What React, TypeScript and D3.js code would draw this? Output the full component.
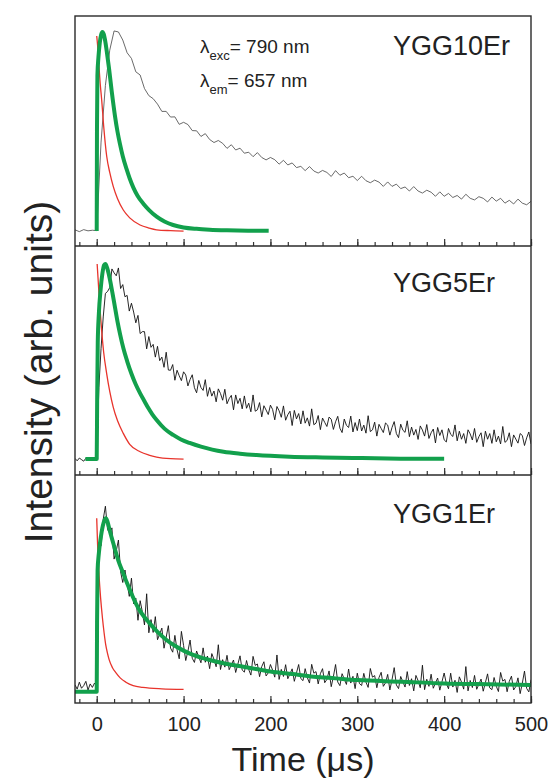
import { useEffect, useRef } from "react";
import * as d3 from "d3";

// time axis (µs)
const timeDomain = [-25, 500];
const majorTicks = [0, 100, 200, 300, 400, 500];
const minorTicks = d3.range(-20, 501, 20);

// measured decays, sampled from -25 µs
const sampleStart = -25;

// YGG10Er, every 5 µs
const decay10Er = [
  0.006, -0.003, 0.007, 0.001, 0.004, 0.002, 0.44, 0.72, 0.895, 0.99,
  0.985, 0.945, 0.882, 0.854, 0.788, 0.772, 0.705, 0.67, 0.655, 0.628,
  0.592, 0.592, 0.564, 0.565, 0.528, 0.538, 0.527, 0.497, 0.496, 0.468,
  0.482, 0.453, 0.438, 0.448, 0.434, 0.409, 0.427, 0.401, 0.41, 0.385,
  0.39, 0.368, 0.388, 0.364, 0.352, 0.364, 0.353, 0.331, 0.35, 0.327,
  0.337, 0.314, 0.32, 0.299, 0.319, 0.297, 0.287, 0.3, 0.29, 0.27,
  0.299, 0.276, 0.287, 0.264, 0.271, 0.25, 0.271, 0.249, 0.239, 0.252,
  0.242, 0.221, 0.243, 0.221, 0.232, 0.21, 0.218, 0.198, 0.22, 0.198,
  0.188, 0.202, 0.192, 0.172, 0.194, 0.172, 0.186, 0.166, 0.176, 0.158,
  0.182, 0.162, 0.154, 0.17, 0.162, 0.144, 0.168, 0.148, 0.162, 0.138,
  0.152, 0.134, 0.158, 0.138, 0.13, 0.147,
];

// YGG5Er, every 2.5 µs
const decay5Er = [
  0.008, -0.004, 0.01, 0.002, -0.006, 0.009, 0.0, 0.011, -0.003, 0.006, 0.004,
  0.37, 0.57, 0.73, 0.85, 0.86, 0.88, 0.975, 0.955, 0.94, 0.98,
  0.875, 0.895, 0.833, 0.84, 0.76, 0.8, 0.755, 0.7, 0.738, 0.645,
  0.655, 0.655, 0.567, 0.63, 0.575, 0.59, 0.525, 0.58, 0.507, 0.525,
  0.473, 0.55, 0.459, 0.458, 0.487, 0.407, 0.458, 0.43, 0.405, 0.45,
  0.434, 0.378, 0.411, 0.435, 0.369, 0.343, 0.406, 0.37, 0.355, 0.41,
  0.325, 0.37, 0.326, 0.352, 0.297, 0.363, 0.339, 0.305, 0.361, 0.287,
  0.313, 0.33, 0.256, 0.332, 0.288, 0.315, 0.261, 0.327, 0.264, 0.29,
  0.246, 0.332, 0.249, 0.256, 0.293, 0.22, 0.277, 0.255, 0.232, 0.28,
  0.258, 0.205, 0.273, 0.251, 0.218, 0.276, 0.203, 0.231, 0.249, 0.176,
  0.253, 0.21, 0.237, 0.184, 0.251, 0.188, 0.215, 0.173, 0.261, 0.18,
  0.188, 0.227, 0.155, 0.214, 0.192, 0.171, 0.219, 0.208, 0.156, 0.195,
  0.223, 0.162, 0.14, 0.209, 0.177, 0.166, 0.224, 0.143, 0.191, 0.15,
  0.209, 0.148, 0.178, 0.137, 0.226, 0.145, 0.154, 0.193, 0.122, 0.182,
  0.161, 0.14, 0.189, 0.178, 0.127, 0.166, 0.196, 0.135, 0.114, 0.183,
  0.152, 0.141, 0.2, 0.119, 0.168, 0.127, 0.156, 0.105, 0.174, 0.153,
  0.122, 0.181, 0.11, 0.139, 0.158, 0.087, 0.166, 0.125, 0.154, 0.103,
  0.092, 0.161, 0.131, 0.12, 0.179, 0.098, 0.147, 0.106, 0.135, 0.085,
  0.154, 0.133, 0.102, 0.161, 0.09, 0.119, 0.139, 0.068, 0.147, 0.106,
  0.135, 0.085, 0.154, 0.093, 0.122, 0.082, 0.171, 0.09, 0.1, 0.139,
  0.068, 0.128, 0.107, 0.086, 0.135, 0.125, 0.074, 0.113, 0.143, 0.082,
];

// YGG1Er, every 2.5 µs
const decay1Er = [
  0.04, 0.015, 0.055, 0.02, 0.035, 0.06, 0.01, 0.045, 0.025, 0.05, 0.03,
  0.845, 0.84, 0.995, 1.07, 0.935, 0.915, 0.945, 0.765, 0.812, 0.875,
  0.692, 0.63, 0.702, 0.625, 0.55, 0.655, 0.507, 0.54, 0.412, 0.525,
  0.462, 0.385, 0.565, 0.34, 0.416, 0.342, 0.433, 0.3, 0.333, 0.367,
  0.251, 0.315, 0.381, 0.252, 0.228, 0.325, 0.242, 0.19, 0.348, 0.267,
  0.18, 0.234, 0.298, 0.193, 0.169, 0.235, 0.201, 0.167, 0.253, 0.17,
  0.206, 0.133, 0.22, 0.187, 0.144, 0.271, 0.128, 0.185, 0.142, 0.21,
  0.127, 0.155, 0.183, 0.111, 0.159, 0.207, 0.125, 0.113, 0.18, 0.128,
  0.096, 0.204, 0.152, 0.16, 0.087, 0.145, 0.173, 0.091, 0.109, 0.157,
  0.125, 0.084, 0.212, 0.071, 0.129, 0.088, 0.156, 0.075, 0.103, 0.132,
  0.06, 0.109, 0.157, 0.076, 0.064, 0.133, 0.081, 0.05, 0.158, 0.107,
  0.116, 0.045, 0.104, 0.133, 0.052, 0.071, 0.12, 0.029, 0.088, 0.157,
  0.056, 0.035, 0.104, 0.073, 0.042, 0.131, 0.05, 0.089, 0.018, 0.107,
  0.047, 0.036, 0.106, 0.055, 0.025, 0.134, 0.084, 0.093, 0.023, 0.082,
  0.112, 0.031, 0.051, 0.1, 0.01, 0.07, 0.139, 0.039, 0.018, 0.088,
  0.057, 0.027, 0.116, 0.036, 0.075, 0.005, 0.094, 0.064, 0.023, 0.153,
  0.012, 0.072, 0.031, 0.101, 0.02, 0.05, 0.079, 0.009, 0.058, 0.108,
  0.048, 0.017, 0.107, 0.027, 0.066, -0.004, 0.086, 0.056, 0.015, 0.145,
  0.005, 0.065, 0.024, 0.094, 0.014, 0.044, 0.073, 0.003, 0.053, 0.103,
  0.022, 0.012, 0.082, 0.032, 0.001, 0.111, 0.061, 0.071, 0.0, 0.06,
  0.09, 0.01, 0.03, 0.08, -0.011, 0.049, 0.119, 0.019, -0.001, 0.069,
];

// fitted curves [t, I]
const fit10Er: [number, number][] = [
  [0, 0], [0.3, 0.5], [0.8, 0.77], [2, 0.86], [3.5, 0.93], [5, 0.97], [6.5, 0.985],
  [8, 0.975], [10, 0.935], [12, 0.875], [14.3, 0.8], [17.3, 0.69], [21, 0.57],
  [24, 0.49], [26.8, 0.43], [30, 0.37], [34.5, 0.305], [38, 0.26], [42.2, 0.215],
  [47, 0.175], [53.7, 0.135], [60, 0.105], [69, 0.071], [78, 0.047], [88, 0.03],
  [100, 0.018], [115, 0.011], [130, 0.007], [150, 0.004], [175, 0.002], [198, 0.001],
];

const fit5Er: [number, number][] = [
  [-13, 0.005], [0, 0.005], [0.5, 0.3], [1.2, 0.6], [2.5, 0.75], [4.5, 0.87], [6.5, 0.95],
  [8.5, 0.995], [10, 1.0], [12, 0.98], [14.3, 0.94], [18, 0.855], [21, 0.78], [24, 0.705],
  [27, 0.64], [30.7, 0.57], [35, 0.505], [40, 0.44], [45, 0.385], [50, 0.34], [55, 0.3],
  [59.4, 0.265], [64, 0.233], [69, 0.204], [78, 0.16], [88, 0.128], [97, 0.105],
  [107, 0.087], [120, 0.068], [133, 0.053], [146, 0.042], [165, 0.032], [184, 0.025],
  [222, 0.017], [260, 0.013], [300, 0.01], [350, 0.007], [400, 0.006],
];

const fit1Er: [number, number][] = [
  [-25, 0], [0, 0], [0.4, 0.4], [1, 0.7], [2.5, 0.8], [5, 0.9], [8, 0.975], [10.5, 1.0],
  [12.5, 0.98], [15, 0.93], [20, 0.84], [25, 0.755], [30, 0.69], [35, 0.625], [40, 0.565],
  [45, 0.51], [50, 0.465], [55, 0.43], [60, 0.4], [70, 0.345], [80, 0.3], [90, 0.265],
  [100, 0.237], [111, 0.212], [120, 0.197], [130, 0.183], [150, 0.16], [169, 0.144],
  [185, 0.13], [200, 0.117], [225, 0.102], [250, 0.087], [275, 0.077], [300, 0.067],
  [350, 0.058], [400, 0.048], [450, 0.043], [500, 0.039],
];

// instrument response (red)
const irf10Er: [number, number][] = [
  [0, 0.965], [1, 0.92], [2.5, 0.82], [4, 0.73], [5.7, 0.65], [8, 0.52], [11.5, 0.37],
  [15, 0.29], [19.1, 0.22], [24, 0.16], [30.6, 0.104], [38, 0.065], [49.9, 0.03],
  [60, 0.015], [69, 0.006], [85, 0.002], [100, 0.0],
];

const irf5Er: [number, number][] = [
  [0.5, 1.0], [1.5, 0.93], [3, 0.82], [4.5, 0.73], [5.7, 0.66], [8, 0.55], [11.5, 0.44],
  [15, 0.35], [19, 0.27], [24, 0.2], [30.6, 0.136], [38, 0.08], [50, 0.042],
  [60, 0.025], [69, 0.015], [85, 0.007], [100, 0.005],
];

const irf1Er: [number, number][] = [
  [0, 1.0], [1, 0.85], [2.7, 0.67], [4.5, 0.54], [6.6, 0.425], [8.5, 0.34], [10.4, 0.27],
  [12.5, 0.22], [14.3, 0.185], [18, 0.14], [22, 0.11], [27, 0.08], [33.6, 0.055],
  [42, 0.035], [53, 0.025], [75, 0.017], [100, 0.014],
];

const sampleNames = ["YGG10Er", "YGG5Er", "YGG1Er"];

const panels = [
  { name: sampleNames[0], decay: decay10Er, step: 5, fit: fit10Er, irf: irf10Er, yDomain: [-0.074, 1.064], decayColor: "#444", decayWidth: 0.8 },
  { name: sampleNames[1], decay: decay5Er, step: 2.5, fit: fit5Er, irf: irf5Er, yDomain: [-0.0765, 1.092], decayColor: "#111", decayWidth: 0.9 },
  { name: sampleNames[2], decay: decay1Er, step: 2.5, fit: fit1Er, irf: irf1Er, yDomain: [-0.065, 1.25], decayColor: "#111", decayWidth: 0.9 },
];

const FONT = "'Liberation Sans', Arial, Helvetica, sans-serif";

function DecayChart() {
  const ref = useRef<SVGSVGElement>(null);

  useEffect(() => {
    document.body.style.margin = "0";
    const svg = d3.select(ref.current);
    svg.selectAll("*").remove();

    const left = 75;
    const right = 531;
    const edges = [16, 246, 475, 703];

    const x = d3.scaleLinear().domain(timeDomain).range([left, right]);

    panels.forEach((p, i) => {
      const top = edges[i];
      const bottom = edges[i + 1];
      const y = d3.scaleLinear().domain(p.yDomain).range([bottom, top]);

      const clipId = `clip-${i}`;
      svg.append("clipPath").attr("id", clipId)
        .append("rect")
        .attr("x", left).attr("y", top)
        .attr("width", right - left).attr("height", bottom - top);

      const g = svg.append("g").attr("clip-path", `url(#${clipId})`);

      const decayLine = d3.line<number>()
        .x((_, j) => x(sampleStart + j * p.step))
        .y(d => y(d));

      const smoothLine = d3.line<[number, number]>()
        .x(d => x(d[0]))
        .y(d => y(d[1]))
        .curve(d3.curveMonotoneX);

      g.append("path")
        .attr("d", decayLine(p.decay))
        .attr("fill", "none")
        .attr("stroke", p.decayColor)
        .attr("stroke-width", p.decayWidth)
        .attr("stroke-linejoin", "round");

      g.append("path")
        .attr("d", smoothLine(p.irf))
        .attr("fill", "none")
        .attr("stroke", "#e8342c")
        .attr("stroke-width", 1.3);

      g.append("path")
        .attr("d", smoothLine(p.fit))
        .attr("fill", "none")
        .attr("stroke", "#12a04c")
        .attr("stroke-width", 4)
        .attr("stroke-linejoin", "round");

      // inward ticks on the bottom edge of each panel
      const minorAxis = d3.axisBottom(x)
        .tickValues(minorTicks)
        .tickSize(-4)
        .tickFormat(() => "");
      const majorAxis = d3.axisBottom(x)
        .tickValues(majorTicks)
        .tickSize(-7)
        .tickPadding(14)
        .tickFormat(i === panels.length - 1 ? d3.format("d") : () => "");

      [minorAxis, majorAxis].forEach(ax => {
        const a = svg.append("g")
          .attr("transform", `translate(0,${bottom})`)
          .call(ax);
        a.select(".domain").remove();
        a.selectAll("line").attr("stroke", "#333").attr("stroke-width", 1.2);
        a.selectAll("text")
          .attr("font-family", FONT)
          .attr("font-size", 20)
          .attr("fill", "#222");
      });

      svg.append("text")
        .attr("x", 393)
        .attr("y", [55, 292, 523][i])
        .attr("font-family", FONT)
        .attr("font-size", 27)
        .attr("fill", "#222")
        .text(p.name);
    });

    // frame
    svg.append("rect")
      .attr("x", left).attr("y", edges[0])
      .attr("width", right - left).attr("height", edges[3] - edges[0])
      .attr("fill", "none").attr("stroke", "#2a2a2a").attr("stroke-width", 1.4);
    [edges[1], edges[2]].forEach(yy => {
      svg.append("line")
        .attr("x1", left).attr("x2", right)
        .attr("y1", yy).attr("y2", yy)
        .attr("stroke", "#2a2a2a").attr("stroke-width", 1.4);
    });

    // wavelengths
    const lam = [["exc", "= 790 nm", 53], ["em", "= 657 nm", 87]] as const;
    lam.forEach(([sub, rest, yy]) => {
      const t = svg.append("text")
        .attr("x", 200).attr("y", yy)
        .attr("font-family", FONT)
        .attr("font-size", 19)
        .attr("fill", "#222");
      t.append("tspan").text("λ");
      t.append("tspan").attr("font-size", 13).attr("dy", 7).text(sub);
      t.append("tspan").attr("dy", -7).text(rest);
    });

    svg.append("text")
      .attr("x", 303).attr("y", 771)
      .attr("text-anchor", "middle")
      .attr("font-family", FONT)
      .attr("font-size", 34)
      .attr("fill", "#222")
      .text("Time (μs)");

    svg.append("text")
      .attr("transform", `translate(52,372) rotate(-90)`)
      .attr("text-anchor", "middle")
      .attr("font-family", FONT)
      .attr("font-size", 39)
      .attr("fill", "#222")
      .text("Intensity (arb. units)");
  }, []);

  return <svg ref={ref} width={549} height={779} style={{ display: "block", background: "#fff" }} />;
}

export default function App() {
  return <DecayChart />;
}
